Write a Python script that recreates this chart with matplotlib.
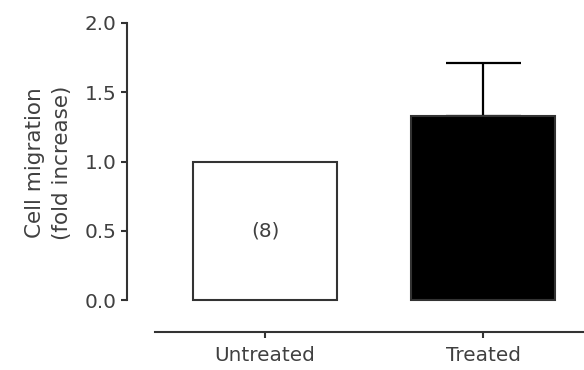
"""
plot.py

Zellmigration (fold increase) unbehandelt vs. behandelt als Balkendiagramm.
"""

import matplotlib
matplotlib.use("Agg")
import matplotlib.pyplot as plt


OUTPUT = "out.png"

GROUPS = ["Untreated", "Treated"]
MEANS = [1.0, 1.33]
SEM_UPPER = [0.0, 0.38]
N_LABEL = "(8)"

BAR_FACES = ["white", "black"]
BAR_WIDTH = 0.66

Y_TICKS = [0.0, 0.5, 1.0, 1.5, 2.0]
Y_TICKLABELS = ["0.0", "0.5", "1.0", "1.5", "2.0"]

FIGSIZE = (5.84, 3.70)
DPI = 100
FONT_SIZE = 14.4
LABEL_SIZE = 15.5
TEXT_COLOR = "#404040"
AXIS_COLOR = "#333333"


def plot_migration() -> None:
    plt.rcParams["font.family"] = ["DejaVu Sans"]

    fig = plt.figure(figsize=FIGSIZE, dpi=DPI)
    # Achse in Pixeln: links 127, rechts 584, unten 332, oben 23
    ax = fig.add_axes([127 / 584, 38 / 370, 457 / 584, 309 / 370])

    x = list(range(len(GROUPS)))
    ax.bar(x, MEANS, width=BAR_WIDTH, color=BAR_FACES,
           edgecolor=AXIS_COLOR, linewidth=1.5, zorder=2)

    # nur oberer Fehlerbalken beim behandelten Balken
    ax.errorbar(x[1], MEANS[1], yerr=[[0], [SEM_UPPER[1]]], fmt="none",
                ecolor="black", elinewidth=1.6, capsize=27, capthick=1.6,
                zorder=1)

    ax.text(x[0], MEANS[0] / 2, N_LABEL, ha="center", va="center",
            fontsize=FONT_SIZE, color=TEXT_COLOR)

    ax.set_xlim(-0.633, 1.463)
    ax.set_ylim(-0.231, 2.0)

    ax.spines["top"].set_visible(False)
    ax.spines["right"].set_visible(False)
    for side in ("left", "bottom"):
        ax.spines[side].set_color(AXIS_COLOR)
        ax.spines[side].set_linewidth(1.5)
    ax.spines["left"].set_bounds(0, 2.0)
    ax.spines["bottom"].set_bounds(-0.505, 1.463)

    ax.set_yticks(Y_TICKS)
    ax.set_yticklabels(Y_TICKLABELS)
    ax.set_xticks(x)
    ax.set_xticklabels(GROUPS)
    ax.tick_params(axis="y", direction="out", length=4.5, width=1.5,
                   color=AXIS_COLOR, pad=3, labelsize=FONT_SIZE,
                   labelcolor=TEXT_COLOR)
    ax.tick_params(axis="x", direction="out", length=4, width=1.5,
                   color=AXIS_COLOR, pad=6, labelsize=FONT_SIZE,
                   labelcolor=TEXT_COLOR)

    ax.set_ylabel("Cell migration\n(fold increase)", fontsize=LABEL_SIZE,
                  color=TEXT_COLOR, linespacing=1.45)
    ax.yaxis.set_label_coords(-0.12, 0.547)

    fig.savefig(OUTPUT, dpi=DPI)
    plt.close(fig)


def main() -> None:
    plot_migration()


if __name__ == "__main__":
    main()
